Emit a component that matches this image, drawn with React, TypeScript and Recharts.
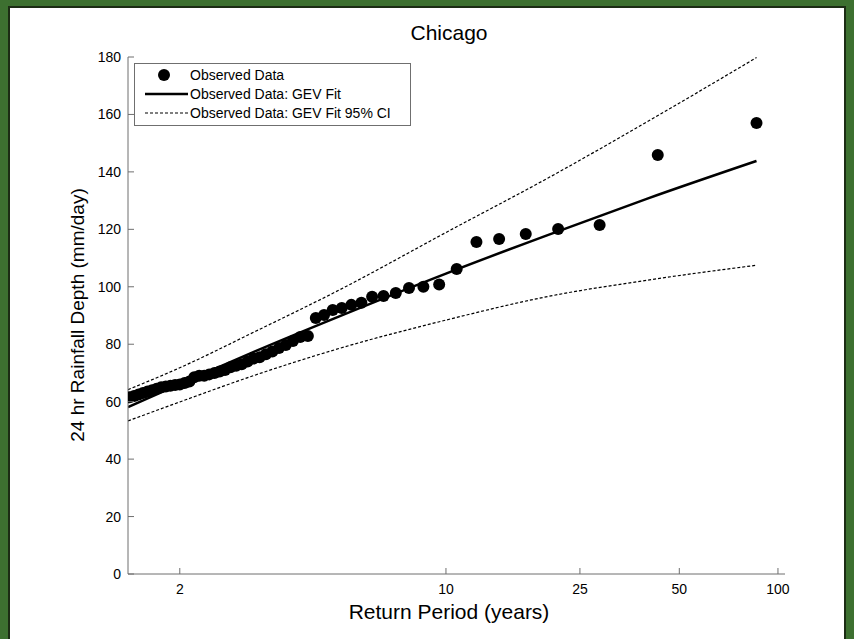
import { ComposedChart, Line, Scatter, XAxis, YAxis, Legend } from "recharts";

const chartTitle = "Chicago";
const xLabel = "Return Period (years)";
const yLabel = "24 hr Rainfall Depth (mm/day)";

const returnPeriodTicks = [2, 10, 25, 50, 100];
const depthTicks = [0, 20, 40, 60, 80, 100, 120, 140, 160, 180];

// ranked annual maxima (largest first), return period = 86 / rank
const observedReturnPeriods = [
  86, 43, 28.667, 21.5, 17.2, 14.333, 12.286, 10.75, 9.556, 8.6,
  7.818, 7.167, 6.615, 6.143, 5.733, 5.375, 5.059, 4.778, 4.526, 4.3,
  4.095, 3.909, 3.739, 3.583, 3.44, 3.308, 3.185, 3.071, 2.966, 2.867,
  2.774, 2.688, 2.606, 2.529, 2.457, 2.389, 2.324, 2.263, 2.205, 2.15,
  2.098, 2.048, 2.0, 1.955, 1.911, 1.87, 1.83, 1.792, 1.755, 1.72,
  1.686, 1.654, 1.623, 1.593,
];
const observedDepths = [
  157.0, 145.9, 121.5, 120.1, 118.4, 116.6, 115.6, 106.2, 100.8, 100.0,
  99.6, 97.8, 96.8, 96.5, 94.4, 93.7, 92.6, 91.9, 90.2, 89.1,
  82.9, 82.5, 81.1, 79.7, 78.7, 77.5, 76.5, 75.5, 75.0, 74.0,
  73.0, 72.5, 72.0, 71.0, 70.5, 70.0, 69.5, 69.0, 69.0, 68.5,
  67.0, 66.5, 66.0, 65.8, 65.5, 65.3, 65.0, 64.5, 64.0, 63.5,
  63.0, 62.5, 62.0, 61.5,
];

const fitReturnPeriods = [1.582, 2, 3, 5, 10, 20, 40, 86];
const gevFit = [58.1, 66.1, 77.6, 89.8, 104.6, 118.0, 130.7, 143.8];
const gevUpper = [64.2, 71.8, 84.5, 99.0, 118.9, 137.8, 157.5, 179.8];
const gevLower = [53.3, 59.9, 69.3, 78.6, 88.4, 96.6, 102.3, 107.5];

// Gumbel reduced variate, used as the x coordinate
const gumbel = (T: number) => -Math.log(-Math.log(1 - 1 / T));

const observed = observedReturnPeriods.map((T, i) => ({ g: gumbel(T), v: observedDepths[i] }));
const fitData = fitReturnPeriods.map((T, i) => ({ g: gumbel(T), v: gevFit[i] }));
const upperData = fitReturnPeriods.map((T, i) => ({ g: gumbel(T), v: gevUpper[i] }));
const lowerData = fitReturnPeriods.map((T, i) => ({ g: gumbel(T), v: gevLower[i] }));
const xTicks = returnPeriodTicks.map(gumbel);

const FONT = "'Liberation Sans', Arial, Helvetica, sans-serif";
const AXIS = "#6f6f6f";

const XTick = (props: any) => {
  const { x, y, index } = props;
  return (
    <g>
      <line x1={x} x2={x} y1={y} y2={y - 6} stroke={AXIS} />
      <text x={x} y={y + 20} textAnchor="middle" fontSize={14} fontFamily={FONT} fill="#000">
        {returnPeriodTicks[index]}
      </text>
    </g>
  );
};

const YTick = (props: any) => {
  const { x, y, payload } = props;
  return (
    <g>
      <line x1={x} x2={x + 6} y1={y} y2={y} stroke={AXIS} />
      <text x={x - 7} y={y + 5} textAnchor="end" fontSize={14} fontFamily={FONT} fill="#000">
        {payload.value}
      </text>
    </g>
  );
};

const LegendBox = () => (
  <div
    style={{
      width: 277,
      height: 63,
      border: "1px solid #6f6f6f",
      background: "#fff",
      boxSizing: "border-box",
      fontFamily: FONT,
      fontSize: 14,
      color: "#000",
      position: "relative",
    }}
  >
    <svg width={277} height={63} style={{ position: "absolute", left: 0, top: 0 }}>
      <circle cx={29} cy={11} r={6} fill="#000" />
      <line x1={10} x2={53} y1={30} y2={30} stroke="#000" strokeWidth={2.5} />
      <line x1={10} x2={53} y1={49} y2={49} stroke="#000" strokeWidth={1.2} strokeDasharray="3 2" />
      <text x={55} y={16} fontSize={14} fontFamily={FONT}>Observed Data</text>
      <text x={55} y={35} fontSize={14} fontFamily={FONT}>Observed Data: GEV Fit</text>
      <text x={55} y={54} fontSize={14} fontFamily={FONT}>Observed Data: GEV Fit 95% CI</text>
    </svg>
  </div>
);

export default function App() {
  return (
    <div
      style={{
        position: "absolute",
        left: 0,
        top: 0,
        width: 854,
        height: 639,
        background: "#3d7030",
        overflow: "hidden",
      }}
    >
      <div
        style={{
          position: "absolute",
          left: 8,
          top: 6,
          width: 838,
          height: 640,
          background: "#fff",
          border: "2px solid #1c2c14",
          boxSizing: "border-box",
        }}
      />
      <div
        style={{
          position: "absolute",
          left: 0,
          top: 0,
          width: 854,
          height: 639,
        }}
      >
        <ComposedChart
          width={854}
          height={639}
          margin={{ top: 57, right: 69, bottom: 35, left: 68 }}
        >
          <XAxis
            type="number"
            dataKey="g"
            domain={[0, 4.65]}
            ticks={xTicks}
            allowDataOverflow
            height={30}
            stroke={AXIS}
            tickLine={false}
            tickSize={0}
            tickMargin={0}
            tick={<XTick />}
            interval={0}
          />
          <YAxis
            type="number"
            dataKey="v"
            domain={[0, 180]}
            ticks={depthTicks}
            width={60}
            stroke={AXIS}
            tickLine={false}
            tickSize={0}
            tickMargin={0}
            tick={<YTick />}
            interval={0}
          />
          <Legend
            layout="horizontal"
            verticalAlign="middle"
            align="center"
            content={() => <LegendBox />}
            wrapperStyle={{ position: "absolute", left: 134, top: 63, width: 277, height: 63 }}
          />
          <Line
            data={upperData}
            dataKey="v"
            type="monotone"
            stroke="#000"
            strokeWidth={1.2}
            strokeDasharray="3 2"
            dot={false}
            isAnimationActive={false}
          />
          <Line
            data={lowerData}
            dataKey="v"
            type="monotone"
            stroke="#000"
            strokeWidth={1.2}
            strokeDasharray="3 2"
            dot={false}
            isAnimationActive={false}
          />
          <Line
            data={fitData}
            dataKey="v"
            type="monotone"
            stroke="#000"
            strokeWidth={2.5}
            dot={false}
            isAnimationActive={false}
          />
          <Scatter
            data={observed}
            dataKey="v"
            fill="#000"
            shape={(p: any) => <circle cx={p.cx} cy={p.cy} r={6} fill="#000" />}
            isAnimationActive={false}
          />
        </ComposedChart>
      </div>
      <div
        style={{
          position: "absolute",
          left: 349,
          width: 200,
          top: 21,
          textAlign: "center",
          fontFamily: FONT,
          fontSize: 21,
          color: "#000",
          whiteSpace: "nowrap",
        }}
      >
        {chartTitle}
      </div>
      <div
        style={{
          position: "absolute",
          left: 299,
          width: 300,
          top: 600,
          textAlign: "center",
          fontFamily: FONT,
          fontSize: 21,
          color: "#000",
          whiteSpace: "nowrap",
        }}
      >
        {xLabel}
      </div>
      <div
        style={{
          position: "absolute",
          left: 78 - 160,
          top: 315 - 12,
          width: 320,
          height: 24,
          lineHeight: "24px",
          textAlign: "center",
          transform: "rotate(-90deg)",
          fontFamily: FONT,
          fontSize: 19,
          color: "#000",
          whiteSpace: "nowrap",
        }}
      >
        {yLabel}
      </div>
    </div>
  );
}
